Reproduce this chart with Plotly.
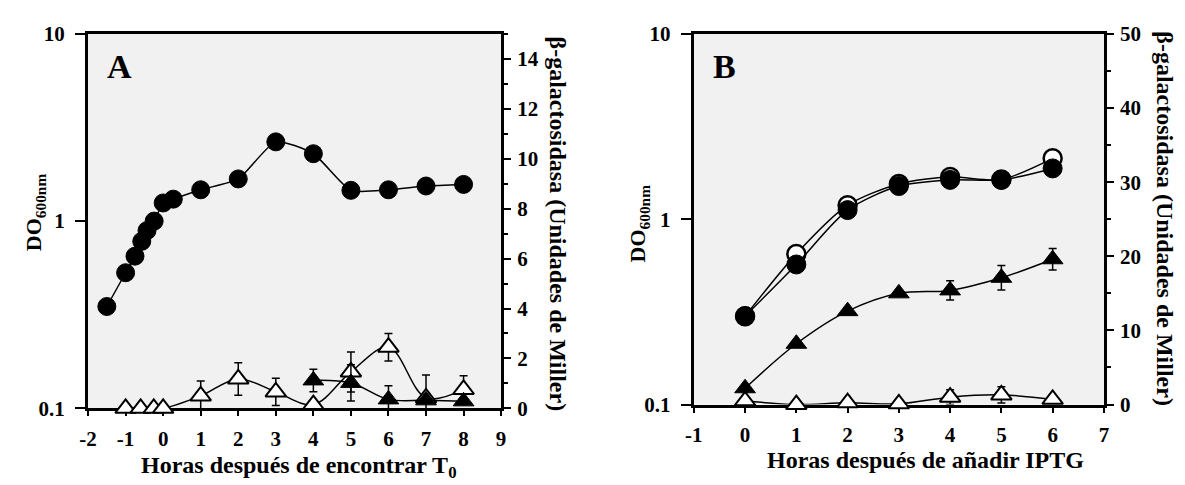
import plotly.graph_objects as go

# ---------------- Panel A data ----------------
a_circ_x = [-1.5, -1.0, -0.75, -0.57, -0.43, -0.24, 0.0, 0.27, 1, 2, 3, 4, 5, 6, 7, 8]
a_circ_y = [0.35, 0.53, 0.65, 0.78, 0.89, 1.0, 1.25, 1.31, 1.47, 1.68, 2.65, 2.29, 1.46, 1.47, 1.54, 1.57]

a_open_tri_x = [-1, -0.6, -0.25, 0, 1, 2, 3, 4, 5, 6, 7, 8]
a_open_tri_y = [0, 0, 0, 0, 0.5, 1.18, 0.66, 0.15, 1.46, 2.45, 0.42, 0.76]
a_open_tri_err = [0, 0, 0, 0, 0.6, 0.65, 0.55, 0, 0.8, 0.55, 0.92, 0.55]

a_fill_tri_x = [4, 5, 6, 7, 8]
a_fill_tri_y = [1.12, 1.02, 0.36, 0.32, 0.28]
a_fill_tri_err = [0.45, 0.73, 0.55, 0, 0]

a_xticks = [-2, -1, 0, 1, 2, 3, 4, 5, 6, 7, 8, 9]
a_right_ticks = [0, 2, 4, 6, 8, 10, 12, 14]

# ---------------- Panel B data ----------------
b_x = [0, 1, 2, 3, 4, 5, 6]
b_open_circ_y = [0.30, 0.65, 1.19, 1.55, 1.69, 1.64, 2.13]
b_fill_circ_y = [0.30, 0.57, 1.12, 1.51, 1.63, 1.63, 1.88]
b_fill_tri_y = [2.2, 8.2, 12.6, 15.0, 15.4, 17.1, 19.6]
b_fill_tri_err = [0, 0, 0, 0, 1.3, 1.65, 1.45]
b_open_tri_y = [0.5, 0, 0.25, 0.1, 1.0, 1.3, 0.7]
b_open_tri_err = [0, 0, 0, 0, 1.0, 1.1, 0]

b_xticks = [-1, 0, 1, 2, 3, 4, 5, 6, 7]
b_right_ticks = [0, 10, 20, 30, 40, 50]

log_ticks = [0.1, 1, 10]
log_ticktext = ["0.1", "1", "10"]

FONT = "Liberation Serif"
tickfont = dict(family=FONT, size=21, color="black", weight="bold")
W, H = 1185, 485

fig = go.Figure()


def err(vals):
    return dict(type="data", array=vals, visible=True, color="black", thickness=1.5, width=4)


def labels(vals):
    return [str(v) for v in vals]  # keeps ASCII hyphen for negatives


# Panel A
fig.add_trace(go.Scatter(x=a_circ_x, y=a_circ_y, mode="lines+markers", xaxis="x", yaxis="y",
                         line=dict(color="black", width=1.5, shape="spline", smoothing=0.6),
                         marker=dict(symbol="circle", size=18, color="black", line=dict(color="black", width=1)),
                         cliponaxis=False, showlegend=False))
fig.add_trace(go.Scatter(x=a_open_tri_x, y=a_open_tri_y, mode="lines+markers", xaxis="x", yaxis="y2",
                         line=dict(color="black", width=1.5, shape="spline", smoothing=1),
                         marker=dict(symbol="triangle-up", size=18, color="white", line=dict(color="black", width=2)),
                         error_y=err(a_open_tri_err), cliponaxis=False, showlegend=False))
fig.add_trace(go.Scatter(x=a_fill_tri_x, y=a_fill_tri_y, mode="lines+markers", xaxis="x", yaxis="y2",
                         line=dict(color="black", width=1.5, shape="spline", smoothing=1),
                         marker=dict(symbol="triangle-up", size=18, color="black", line=dict(color="black", width=1)),
                         error_y=err(a_fill_tri_err), cliponaxis=False, showlegend=False))

# Panel B
fig.add_trace(go.Scatter(x=b_x, y=b_open_circ_y, mode="lines+markers", xaxis="x2", yaxis="y3",
                         line=dict(color="black", width=1.5, shape="spline", smoothing=0.8),
                         marker=dict(symbol="circle", size=18, color="white", line=dict(color="black", width=2.5)),
                         cliponaxis=False, showlegend=False))
fig.add_trace(go.Scatter(x=b_x, y=b_fill_circ_y, mode="lines+markers", xaxis="x2", yaxis="y3",
                         line=dict(color="black", width=1.5, shape="spline", smoothing=0.8),
                         marker=dict(symbol="circle", size=19, color="black", line=dict(color="black", width=1)),
                         cliponaxis=False, showlegend=False))
fig.add_trace(go.Scatter(x=b_x, y=b_open_tri_y, mode="lines+markers", xaxis="x2", yaxis="y4",
                         line=dict(color="black", width=1.5, shape="spline", smoothing=1),
                         marker=dict(symbol="triangle-up", size=18, color="white", line=dict(color="black", width=2)),
                         error_y=err(b_open_tri_err), cliponaxis=False, showlegend=False))
fig.add_trace(go.Scatter(x=b_x, y=b_fill_tri_y, mode="lines+markers", xaxis="x2", yaxis="y4",
                         line=dict(color="black", width=1.5, shape="spline", smoothing=1),
                         marker=dict(symbol="triangle-up", size=18, color="black", line=dict(color="black", width=1)),
                         error_y=err(b_fill_tri_err), cliponaxis=False, showlegend=False))

xa_dom = [80 / W, 498 / W]
xb_dom = [693 / W, 1108 / W]
ya_dom = [1 - 417 / H, 1 - 23 / H]
yb_dom = [1 - 413 / H, 1 - 23 / H]

common_x = dict(showline=True, linewidth=3, linecolor="black", mirror=True, ticks="outside",
                ticklen=5, tickwidth=2, tickcolor="black", showgrid=False, zeroline=False,
                tickfont=tickfont, layer="below traces", ticklabelstandoff=4)
common_logy = dict(type="log", showline=True, linewidth=3, linecolor="black", ticks="outside",
                   ticklen=10, tickwidth=2, tickcolor="black", showgrid=False, zeroline=False,
                   tickvals=log_ticks, ticktext=log_ticktext, tickfont=tickfont, range=[-1, 1],
                   ticklabelstandoff=6)
common_right = dict(side="right", showline=True, linewidth=3, linecolor="black", ticks="outside",
                    ticklen=7, tickwidth=2, tickcolor="black", showgrid=False, zeroline=False,
                    tickfont=tickfont, layer="below traces", ticklabelstandoff=2)

fig.update_layout(
    width=W, height=H, autosize=False,
    margin=dict(l=0, r=0, t=0, b=0),
    paper_bgcolor="white", plot_bgcolor="#f1f1f1",
    xaxis=dict(domain=xa_dom, anchor="y", range=[-2, 9], tickvals=a_xticks, ticktext=labels(a_xticks), **common_x),
    yaxis=dict(domain=ya_dom, anchor="x", **common_logy),
    yaxis2=dict(overlaying="y", anchor="x", range=[0, 15], tickvals=a_right_ticks, ticktext=labels(a_right_ticks),
                minor=dict(dtick=1, ticks="outside", ticklen=4, tickwidth=2, tickcolor="black", showgrid=False),
                **common_right),
    xaxis2=dict(domain=xb_dom, anchor="y3", range=[-1, 7], tickvals=b_xticks, ticktext=labels(b_xticks), **common_x),
    yaxis3=dict(domain=yb_dom, anchor="x2", **common_logy),
    yaxis4=dict(overlaying="y3", anchor="x2", range=[0, 50], tickvals=b_right_ticks, ticktext=labels(b_right_ticks),
                minor=dict(dtick=5, ticks="outside", ticklen=4, tickwidth=2, tickcolor="black", showgrid=False),
                **common_right),
)

tfont = dict(family=FONT, size=24, color="black", weight="bold")
dofont = dict(family=FONT, size=22, color="black", weight="bold")
ann = [
    dict(text="A", x=112 / W, y=1 - 57 / H, xanchor="center", font=dict(family=FONT, size=34, color="black", weight="bold")),
    dict(text="B", x=724 / W, y=1 - 57 / H, xanchor="center", font=dict(family=FONT, size=34, color="black", weight="bold")),
    dict(text="Horas después de encontrar T<sub>0</sub>", x=293 / W, y=1 - 479 / H, xanchor="center", font=tfont),
    dict(text="Horas después de añadir IPTG", x=927 / W, y=1 - 471 / H, xanchor="center", font=tfont),
    dict(text="DO<sub>600nm</sub>", x=26 / W, y=1 - 211 / H, xanchor="center", textangle=-90, font=dofont),
    dict(text="DO<sub>600nm</sub>", x=638 / W, y=1 - 222 / H, xanchor="center", textangle=-90, font=dofont),
    dict(text="β-galactosidasa (Unidades de Miller)", x=556 / W, y=1 - 223 / H, xanchor="center", textangle=90, font=tfont),
    dict(text="β-galactosidasa (Unidades de Miller)", x=1.0, y=1 - 217 / H, xanchor="right", textangle=90, font=tfont),
]
for a in ann:
    fig.add_annotation(xref="paper", yref="paper", showarrow=False, yanchor="middle", **a)

fig.write_html("out.html")
